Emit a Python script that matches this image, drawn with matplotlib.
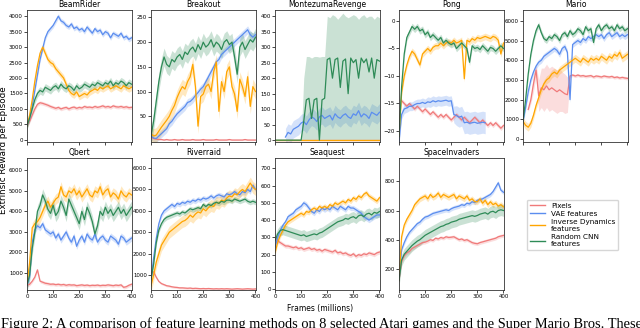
import numpy as np
import matplotlib.pyplot as plt
from matplotlib.lines import Line2D

# ---- data (x runs 0..400 M frames unless noted) ----
series_names = ["Pixels", "VAE features", "Inverse Dynamics\nfeatures", "Random CNN\nfeatures"]
series_colors = ["#f07a7a", "#5b8def", "#ffa500", "#2e8b57"]

beam_pixels = [450, 600, 800, 1000, 1150, 1200, 1180, 1150, 1120, 1080, 1050, 1020, 1050, 1000, 1030,
               1050, 1000, 1040, 1060, 1020, 1050, 1030, 1080, 1050, 1060, 1040, 1080, 1050, 1070, 1100,
               1060, 1080, 1050, 1100, 1070, 1060, 1080, 1050, 1070, 1040, 1050]
beam_vae = [450, 700, 1100, 1600, 2100, 2600, 2950, 3300, 3500, 3600, 3700, 3850, 4000, 3850, 3800,
            3700, 3650, 3750, 3600, 3650, 3550, 3600, 3500, 3650, 3550, 3450, 3600, 3500, 3550, 3400,
            3500, 3450, 3300, 3450, 3400, 3350, 3450, 3300, 3350, 3250, 3300]
beam_inv = [450, 800, 1300, 1900, 2400, 2800, 3000, 2800, 2600, 2500, 2450, 2300, 2200, 2100, 2000,
            1800, 1600, 1500, 1450, 1550, 1400, 1450, 1500, 1450, 1550, 1600, 1650, 1600, 1700, 1650,
            1700, 1750, 1650, 1700, 1750, 1700, 1650, 1750, 1700, 1650, 1700]
beam_rand = [450, 700, 1000, 1300, 1500, 1600, 1550, 1700, 1650, 1600, 1700, 1750, 1650, 1800, 1700,
             1650, 1750, 1700, 1600, 1750, 1650, 1700, 1800, 1750, 1700, 1800, 1750, 1850, 1800, 1750,
             1850, 1800, 1900, 1750, 1850, 1800, 1900, 1850, 1750, 1850, 1800]
beam_spread = [60, 80, 110, 120]

brk_pixels = [8, 5, 4, 3, 3, 2, 3, 2, 2, 3, 2, 2, 3, 2, 2, 2, 3, 2, 2, 2, 3, 2, 2, 2, 2, 3, 2, 2,
              2, 2, 3, 2, 2, 2, 2, 2, 3, 2, 2, 2, 2]
brk_vae = [10, 6, 5, 10, 15, 20, 25, 35, 40, 48, 55, 60, 65, 70, 78, 80, 85, 92, 98, 105, 110, 120,
           130, 140, 150, 160, 165, 175, 180, 185, 190, 195, 200, 205, 210, 215, 220, 225, 215, 210, 215]
brk_inv = [15, 10, 12, 20, 28, 35, 42, 50, 62, 72, 88, 100, 110, 105, 120, 130, 155, 110, 30, 90, 95,
           110, 115, 100, 140, 160, 60, 120, 100, 140, 150, 110, 95, 60, 125, 110, 90, 130, 70, 110, 100]
brk_rand = [10, 40, 80, 120, 150, 170, 155, 150, 165, 160, 170, 175, 165, 180, 175, 185, 190, 180, 195,
            185, 200, 190, 195, 205, 190, 200, 195, 185, 200, 205, 195, 200, 170, 135, 190, 200, 185,
            195, 205, 200, 210]
brk_spread = [1, 8, 15, 18]

mon_pixels = [0, 0, 0, 0, 0]
mon_vae_x = (40, 400)
mon_vae = [10, 25, 20, 35, 40, 45, 55, 60, 50, 65, 75, 70, 60, 75, 80, 70, 75, 80, 65, 85, 75, 70, 80,
           85, 75, 70, 85, 80, 95, 75, 85, 80, 70, 90, 85, 80, 90]
mon_inv = [0, 0, 0, 0, 0]
mon_rand = [0, 0, 0, 0, 0, 0, 0, 0, 0, 0, 0, 60, 130, 135, 70, 130, 135, 0, 130, 135, 260, 265, 200,
            260, 265, 170, 255, 262, 150, 265, 250, 260, 200, 265, 250, 262, 220, 265, 200, 260, 255]
mon_rand_hi = [0, 0, 0, 0, 0, 0, 0, 0, 0, 0, 0, 200, 270, 270, 265, 270, 270, 268, 270, 270, 400, 395,
               405, 400, 390, 400, 410, 400, 395, 400, 405, 400, 390, 400, 405, 395, 400, 400, 390, 400, 395]
mon_spread = [0, 28, 0, 0]

pong_pixels_x = (10, 400)
pong_pixels = [-14.5, -15, -15.5, -15, -15.5, -16, -15.5, -16, -16.5, -16, -16.5, -17, -16.5, -17,
               -17.5, -17, -17.5, -17, -17.5, -18, -17.5, -17, -17.5, -18, -17.5, -18, -18.5, -18,
               -17.5, -18, -18.5, -18, -18.5, -19, -18.5, -19, -18.5, -19, -19.5, -19]
pong_vae_x = (0, 330)
pong_vae = [-22, -17, -16, -15.8, -15.5, -15.5, -15.2, -15, -15, -14.8, -15, -14.7, -14.8, -14.5,
            -14.7, -14.5, -14.6, -14.5, -14.4, -14.6, -14.5, -17, -17.2, -17.5, -17.3, -18.5, -18.4,
            -18.6, -18.5, -18.4, -18.6, -18.5, -18.4, -18.5]
pong_vae_band = [0.5, 0.8, 0.8, 0.8, 0.8, 0.8, 0.8, 0.8, 0.8, 0.8, 0.8, 0.9, 0.9, 0.9, 0.9, 0.9, 0.9,
                 0.9, 0.9, 0.9, 0.9, 1.5, 1.8, 1.8, 1.8, 2, 2, 2, 2, 2, 2, 2, 2, 2]
pong_inv = [-21, -13, -10, -8, -6.5, -5.5, -6, -7, -8, -6, -5.5, -5, -5.5, -4.8, -4.5, -4.5, -4, -4.5,
            -4, -3.8, -4, -3.5, -4, -3.8, -3.5, -10.5, -3.5, -3.8, -3.2, -3.5, -3, -3.2, -3, -2.8,
            -3, -3.2, -2.8, -3, -3.5, -6, -4]
pong_rand = [-21, -12, -6, -3, -2, -1, -1.5, -1, -1.8, -1.5, -2.5, -2, -3, -2.5, -3, -3.5, -3, -4,
             -3.5, -4, -4.3, -4, -5, -4.5, -4, -4.5, -5, -7.5, -4.5, -5, -4.8, -5.2, -4.5, -5, -5.5,
             -4.8, -5, -5.5, -5, -4.5, -5]
pong_spread = [0.4, 0, 0.6, 0.6]

mario_pixels_x = (20, 400)
mario_pixels = [1500, 2000, 2800, 3500, 2200, 2600, 2500, 2700, 2500, 2600, 2500, 2400, 2500, 2400,
                2300, 2250, 3200, 3250, 3200, 3250, 3200, 3220, 3180, 3200, 3220, 3150, 3200, 3180,
                3150, 3200, 3170, 3150, 3180, 3120, 3150, 3100, 3130, 3100, 3080]
mario_pixels_band = [100, 200, 400, 300, 800, 1000, 1100, 1100, 1100, 1100, 1100, 1100, 1100, 1000,
                     1000, 900, 80, 80, 80, 80, 80, 80, 80, 80, 80, 80, 80, 80, 80, 80, 80, 80, 80,
                     80, 80, 80, 80, 80, 80]
mario_vae = [900, 1600, 2400, 3000, 3400, 3700, 3900, 4000, 4200, 4300, 4400, 4500, 4600, 4500, 4300,
             4600, 4700, 4400, 2000, 4800, 4900, 5000, 4900, 5100, 5000, 5200, 5100, 5200, 5300, 5200,
             5300, 5100, 5300, 5400, 5200, 5300, 5400, 5200, 5300, 5200, 5300]
mario_inv = [900, 700, 600, 800, 1200, 1700, 2100, 2500, 2800, 3000, 3100, 3300, 3400, 3300, 3500,
             3600, 3700, 3800, 3900, 4000, 4100, 4000, 3900, 4100, 4000, 3900, 4100, 4000, 4100, 4000,
             4200, 4100, 4000, 4200, 4100, 4300, 4200, 4400, 4100, 4200, 4300]
mario_rand = [900, 2000, 3300, 4300, 5000, 5500, 5800, 5400, 5100, 5000, 5200, 5100, 5300, 5200, 5000,
              5300, 5400, 5200, 5500, 5300, 5400, 5600, 5500, 5300, 5700, 5500, 5600, 4900, 5600, 5800,
              5500, 5700, 5800, 5600, 5700, 5500, 5800, 5600, 5700, 5500, 5600]
mario_spread = [0, 150, 200, 150]

qb_pixels = [400, 450, 600, 800, 1150, 600, 550, 500, 480, 450, 460, 430, 450, 420, 440, 400, 430, 410,
             420, 380, 400, 420, 390, 410, 380, 400, 390, 410, 380, 400, 390, 420, 400, 380, 410, 390,
             420, 300, 330, 400, 450]
qb_vae = [400, 800, 2500, 3100, 3300, 3200, 3400, 3100, 3000, 2900, 3000, 2700, 2900, 2600, 2800, 3000,
          2700, 2500, 2800, 2300, 2600, 2800, 2500, 2900, 2700, 2600, 2900, 2500, 2700, 2800, 2600, 2500,
          2800, 2700, 2600, 2400, 2800, 2700, 2500, 2600, 2700]
qb_inv = [500, 1500, 3200, 3400, 3500, 3700, 4000, 4300, 4500, 4200, 4400, 4600, 4700, 5200, 4800, 4700,
          5000, 4900, 5100, 4800, 5000, 4700, 4900, 5100, 4800, 4700, 5000, 4900, 5200, 4800, 5000, 5100,
          4700, 4900, 4800, 4600, 5000, 4800, 4700, 4900, 4800]
qb_rand = [400, 900, 2200, 3000, 4000, 4300, 4800, 4500, 4100, 3900, 4300, 3800, 4000, 4500, 4200, 3800,
           4600, 4300, 4000, 3700, 3400, 4000, 3600, 4200, 3900, 3500, 2900, 3300, 4000, 3800, 4200, 3900,
           4100, 3800, 4000, 4200, 3900, 4100, 3800, 4000, 4200]
qb_spread = [80, 150, 250, 300]

rr_pixels = [1100, 1150, 900, 700, 600, 550, 500, 480, 450, 430, 420, 400, 400, 390, 380, 390, 370, 380,
             370, 360, 370, 360, 370, 360, 350, 360, 350, 360, 350, 360, 350, 340, 350, 360, 350, 340,
             350, 360, 350, 340, 350]
rr_vae = [800, 1800, 2700, 3400, 3800, 4000, 4100, 4200, 4300, 4200, 4350, 4300, 4400, 4350, 4450, 4400,
          4500, 4450, 4550, 4500, 4600, 4550, 4600, 4700, 4600, 4700, 4750, 4700, 4650, 4800, 4750, 4800,
          4900, 4800, 4750, 4900, 4850, 5000, 4900, 5200, 5000]
rr_inv = [500, 1000, 1600, 2000, 2400, 2600, 2800, 3000, 3100, 3200, 3300, 3400, 3500, 3550, 3650, 3800,
          3700, 3850, 3950, 3900, 4100, 4000, 4150, 4250, 4200, 4400, 4350, 4500, 4450, 4600, 4700, 4650,
          4800, 4750, 4900, 5000, 4900, 5100, 5300, 5100, 5000]
rr_rand = [800, 1500, 2500, 3100, 3400, 3600, 3700, 3750, 3800, 3850, 3900, 3850, 3950, 3900, 4000, 4100,
           4050, 4100, 4150, 4100, 4300, 4200, 4300, 4250, 4350, 4400, 4350, 4450, 4400, 4500, 4500, 4450,
           4550, 4500, 4450, 4500, 4550, 4450, 4400, 4450, 4400]
rr_spread = [50, 120, 280, 120]

sq_pixels = [300, 280, 270, 260, 250, 250, 245, 240, 245, 235, 240, 230, 235, 240, 230, 235, 225, 230,
             220, 230, 225, 220, 215, 225, 210, 215, 205, 210, 200, 195, 205, 190, 200, 195, 205, 200,
             210, 205, 200, 210, 215]
sq_vae = [240, 300, 340, 370, 390, 420, 430, 440, 460, 470, 480, 500, 490, 470, 450, 440, 460, 450, 470,
          460, 470, 460, 480, 470, 460, 480, 470, 460, 480, 470, 470, 460, 450, 440, 420, 410, 400, 410,
          420, 430, 430]
sq_inv = [210, 270, 310, 340, 370, 390, 400, 410, 420, 430, 440, 430, 450, 445, 460, 470, 460, 480, 470,
          480, 470, 490, 480, 500, 490, 500, 510, 500, 520, 510, 530, 520, 540, 530, 550, 560, 540, 530,
          520, 510, 530]
sq_rand = [280, 320, 340, 345, 340, 335, 330, 325, 320, 315, 310, 315, 305, 310, 315, 320, 315, 325, 330,
           340, 350, 360, 370, 380, 390, 395, 400, 410, 405, 415, 420, 410, 425, 430, 420, 435, 440, 430,
           445, 440, 450]
sq_spread = [12, 15, 15, 30]

si_pixels = [120, 250, 290, 310, 320, 340, 350, 360, 370, 380, 383, 390, 400, 395, 410, 405, 415, 410,
             420, 415, 417, 420, 410, 400, 405, 395, 400, 390, 380, 375, 372, 380, 385, 390, 395, 400,
             405, 410, 420, 425, 429]
si_vae = [120, 330, 380, 420, 450, 470, 490, 510, 520, 540, 555, 560, 570, 580, 585, 590, 595, 600, 605,
          600, 612, 620, 625, 630, 640, 635, 650, 645, 660, 655, 670, 675, 680, 690, 700, 710, 730, 760,
          790, 740, 725]
si_inv = [120, 420, 500, 540, 570, 600, 640, 660, 680, 690, 700, 680, 710, 690, 700, 720, 690, 710, 700,
          690, 700, 710, 680, 700, 690, 680, 700, 670, 680, 660, 660, 680, 650, 670, 640, 660, 640, 650,
          630, 640, 625]
si_rand = [120, 260, 300, 320, 340, 360, 375, 390, 400, 415, 430, 440, 450, 460, 470, 480, 490, 495, 505,
           510, 520, 525, 530, 540, 545, 550, 555, 560, 565, 560, 566, 575, 580, 585, 575, 590, 595, 585,
           600, 605, 600]
si_spread = [12, 15, 20, 40]

# ---- panel setup ----
games = [
    dict(title="BeamRider", series=[beam_pixels, beam_vae, beam_inv, beam_rand], spread=beam_spread,
         ylim=(-70, 4200), yticks=range(0, 4001, 500)),
    dict(title="Breakout", series=[brk_pixels, brk_vae, brk_inv, brk_rand], spread=brk_spread,
         ylim=(-2, 265), yticks=range(50, 251, 50)),
    dict(title="MontezumaRevenge", series=[mon_pixels, mon_vae, mon_inv, mon_rand], spread=mon_spread,
         ylim=(-6, 420), yticks=range(0, 401, 50), xr={1: mon_vae_x},
         band={3: (np.zeros(len(mon_rand)), np.array(mon_rand_hi))}),
    dict(title="Pong", series=[pong_pixels, pong_vae, pong_inv, pong_rand], spread=pong_spread,
         ylim=(-22, 2), yticks=range(0, -21, -5), xr={0: pong_pixels_x, 1: pong_vae_x},
         halfw={1: pong_vae_band}),
    dict(title="Mario", series=[mario_pixels, mario_vae, mario_inv, mario_rand], spread=mario_spread,
         ylim=(-150, 6550), yticks=range(0, 6001, 1000), xr={0: mario_pixels_x},
         halfw={0: mario_pixels_band}),
    dict(title="Qbert", series=[qb_pixels, qb_vae, qb_inv, qb_rand], spread=qb_spread,
         ylim=(170, 6600), yticks=range(1000, 6001, 1000)),
    dict(title="Riverraid", series=[rr_pixels, rr_vae, rr_inv, rr_rand], spread=rr_spread,
         ylim=(300, 6470), yticks=range(1000, 6001, 1000)),
    dict(title="Seaquest", series=[sq_pixels, sq_vae, sq_inv, sq_rand], spread=sq_spread,
         ylim=(-5, 760), yticks=range(0, 701, 100)),
    dict(title="SpaceInvaders", series=[si_pixels, si_vae, si_inv, si_rand], spread=si_spread,
         ylim=(55, 960), yticks=range(200, 801, 200)),
]

plt.rcParams["font.family"] = "DejaVu Sans"
W, H = 640, 328
fig = plt.figure(figsize=(W / 100, H / 100), dpi=100)

col_left = [27, 151, 275, 399, 523]
row_top = [10, 158]
ax_w, ax_h = 105, 132

for i, g in enumerate(games):
    r, c = divmod(i, 5)
    ax = fig.add_axes([col_left[c] / W, 1 - (row_top[r] + ax_h) / H, ax_w / W, ax_h / H])
    for k, vals in enumerate(g["series"]):
        y = np.asarray(vals, dtype=float)
        x0, x1 = g.get("xr", {}).get(k, (0, 400))
        x = np.linspace(x0, x1, len(y))
        if k in g.get("band", {}):
            lo, hi = g["band"][k]
        else:
            hw = np.asarray(g.get("halfw", {}).get(k, g["spread"][k]), dtype=float)
            lo, hi = y - hw, y + hw
        col = series_colors[k]
        ax.fill_between(x, lo, hi, color=col, alpha=0.25, linewidth=0)
        ax.plot(x, y, color=col, linewidth=0.9)
    ax.set_xlim(0, 402)
    ax.set_ylim(*g["ylim"])
    ax.set_yticks(list(g["yticks"]))
    ax.set_xticks([0, 100, 200, 300, 400])
    ax.set_title(g["title"], fontsize=5.5, pad=2)
    ax.tick_params(labelsize=3.9, length=2, width=0.5, pad=1)
    if r == 0:
        ax.tick_params(labelbottom=False)
    for s in ax.spines.values():
        s.set_linewidth(0.6)
        s.set_color("#333333")

handles = [Line2D([], [], color=c, linewidth=1.0) for c in series_colors]
fig.legend(handles, series_names, loc="upper left", bbox_to_anchor=(523 / W, 1 - 196 / H),
           fontsize=5.2, frameon=True, handlelength=2.2, labelspacing=0.3,
           borderpad=0.4, edgecolor="#cccccc", fancybox=True)

fig.text(4 / W, 1 - 150 / H, "Extrinsic Reward per Episode", rotation=90,
         ha="center", va="center", fontsize=6.3)
fig.text(0.5, 1 - 309 / H, "Frames (millions)", ha="center", va="center", fontsize=5.5)
fig.text(1 / W, 1 - 317 / H,
         "Figure 2: A comparison of feature learning methods on 8 selected Atari games and the Super Mario Bros. These",
         ha="left", va="top", fontsize=10.4, family="Liberation Serif")

fig.savefig("out.png", dpi=100)
